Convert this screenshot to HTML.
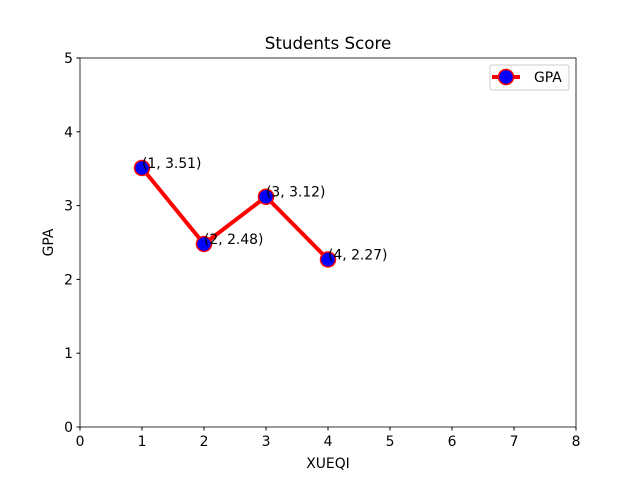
<!DOCTYPE html>
<html><head><meta charset="utf-8"><style>body{margin:0;background:#fff}svg{font-family:"DejaVu Sans","Liberation Sans",sans-serif}</style></head>
<body>
<svg id="c" width="640" height="480" xmlns="http://www.w3.org/2000/svg">
<rect width="640" height="480" fill="#fff"/>
<g id="plot"></g>
</svg>
<script>
const xs=[1,2,3,4];
const gpa=[3.51,2.48,3.12,2.27];
const xTicks=[0,1,2,3,4,5,6,7,8];
const yTicks=[0,1,2,3,4,5];
const L=80,R=576,T=58,B=427;
const X=v=>L+(v-0)/8*(R-L), Y=v=>B-(v-0)/5*(B-T);
const NS="http://www.w3.org/2000/svg";
const g=document.getElementById('plot');
function mk(t,a,txt){const e=document.createElementNS(NS,t);for(const k in a)e.setAttribute(k,a[k]);if(txt!==undefined)e.textContent=txt;g.appendChild(e);return e;}
xTicks.forEach(t=>{const l=mk('line',{x1:X(t),x2:X(t),y1:B,y2:B+3.5,stroke:'#000'});
const e=mk('text',{x:X(t),y:B+19,'font-size':13.9,'text-anchor':'middle'},t);});
yTicks.forEach(t=>{const l=mk('line',{x1:L-3.5,x2:L,y1:Y(t),y2:Y(t),stroke:'#000'});
const e=mk('text',{x:L-7,y:Y(t)+5,'font-size':13.9,'text-anchor':'end'},t);});
const pts=xs.map((x,i)=>X(x)+','+Y(gpa[i])).join(' ');
const pl=mk('polyline',{points:pts,fill:'none',stroke:'#f00','stroke-width':4});
xs.forEach((x,i)=>{const c=mk('circle',{cx:X(x),cy:Y(gpa[i]),r:7.5,fill:'#00f',stroke:'#f00','stroke-width':1.5});
const t=mk('text',{x:X(x),y:Y(gpa[i])+0,'font-size':13.9},'('+x+', '+gpa[i].toFixed(2)+')');});
const f=mk('rect',{x:L,y:T,width:R-L,height:B-T,fill:'none',stroke:'#000','stroke-width':0.8});
const tt=mk('text',{x:(L+R)/2,y:T-9,'font-size':16.7,'text-anchor':'middle'},'Students Score');
const xl=mk('text',{x:(L+R)/2,y:468,'font-size':13.9,'text-anchor':'middle'},'XUEQI');
const yl=mk('text',{x:53,y:(T+B)/2,'font-size':13.9,'text-anchor':'middle',transform:'rotate(-90 53 '+(T+B)/2+')'},'GPA');
const lg=mk('rect',{x:490,y:65,width:79,height:25,rx:2,fill:'#fff',stroke:'#ccc'});
const ll=mk('line',{x1:492,x2:520,y1:77,y2:77,stroke:'#f00','stroke-width':4});
const lc=mk('circle',{cx:506,cy:77,r:7.5,fill:'#00f',stroke:'#f00','stroke-width':1.5});
const lt=mk('text',{x:534,y:82,'font-size':13.9},'GPA');
</script>
</body></html>
